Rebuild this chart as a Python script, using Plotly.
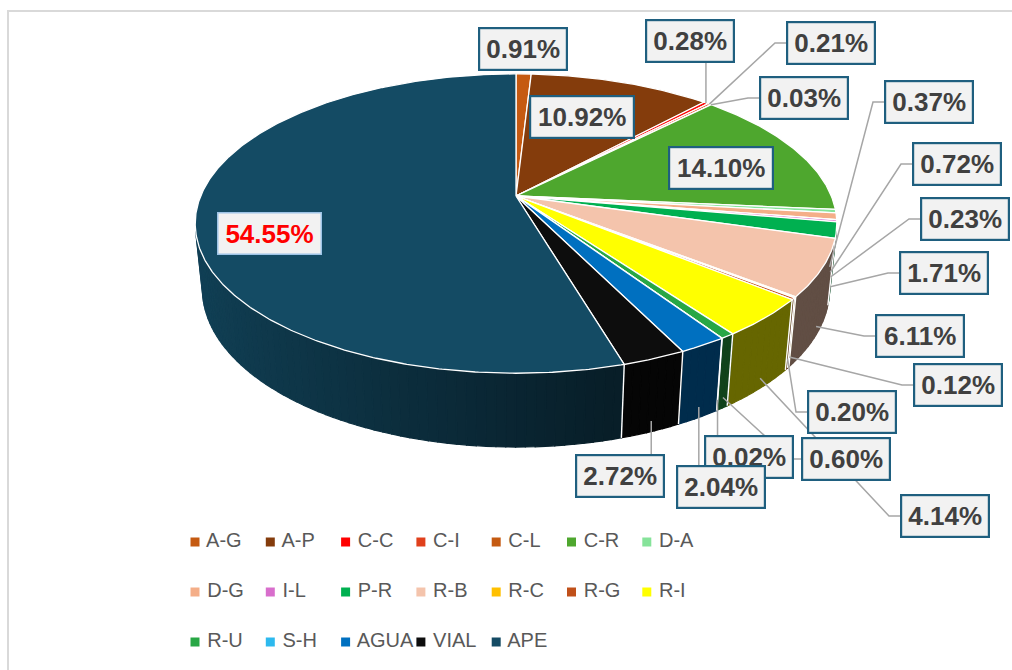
import numpy as np
import plotly.graph_objects as go

# ---- data -----------------------------------------------------------------
categories = ["A-G", "A-P", "C-C", "C-I", "C-L", "C-R", "D-A", "D-G", "I-L", "P-R",
              "R-B", "R-C", "R-G", "R-I", "R-U", "S-H", "AGUA", "VIAL", "APE"]
shares = [0.91, 10.92, 0.28, 0.21, 0.03, 14.10, 0.37, 0.72, 0.23, 1.71,
          6.11, 0.12, 0.20, 4.14, 0.60, 0.02, 2.04, 2.72, 54.55]

# ---- styles ---------------------------------------------------------------
colors = ["#C55A11", "#843C0C", "#FF0000", "#E0401C", "#C55A11", "#4EA72E", "#86E39A",
          "#F4AE88", "#D86ECC", "#00B050", "#F4C4AC", "#FFC000", "#C0501A", "#FFFF00",
          "#28A745", "#2DB9EE", "#0070C0", "#0D0D0D", "#144B64"]

# label box centre (px) and the side where the leader line enters the box
label_pos = [(523, 49), (582, 117), (690, 41), (831, 43), (804, 98), (721, 168),
             (929, 102), (957, 164), (965, 219), (944, 273), (920, 336), (958, 385),
             (852, 412), (945, 516), (846, 459), (749, 457), (721, 487), (620, 476),
             (269, 233)]
label_side = [None, None, "b", "l", "l", None, "l", "l", "l", "l", "l", "l",
              "l", "l", "l", "t", "t", "t", None]

W, H = 1012, 670
FONT = "Liberation Sans, Arial, sans-serif"

# ---- 3-D pie projection -------------------------------------------------------
CX, CY = 516.0, 196.0          # screen position of the pie centre
K = 1523.0                     # focal scale
D = 4.83                       # camera distance (radius units)
ALPHA = np.radians(27.3)       # camera elevation
SA, CA = np.sin(ALPHA), np.cos(ALPHA)
DEPTH = 0.235                  # pie thickness (radius units)


def project(theta_deg, w):
    """Point on the pie rim at angle theta (clockwise from the back) and height w."""
    th = np.radians(theta_deg)
    x, z = np.sin(th), -np.cos(th)
    depth = D - w * SA - z * CA
    return CX + K * x / depth, CY - K * (w * CA - z * SA) / depth


def shade(hex_color, f):
    r, g, b = (int(hex_color[i:i + 2], 16) for i in (1, 3, 5))
    return "rgb({},{},{})".format(int(r * f), int(g * f), int(b * f))


def wall_factor(theta_deg):
    s = np.sin(np.radians(theta_deg))
    return 0.40 + 0.45 * np.clip((0.26 - s) / 1.2, 0, 1)


total = float(sum(shares))
edges = np.concatenate([[0.0], np.cumsum(shares)]) / total * 360.0
vis_lo = np.degrees(np.arccos(-1.0 / (D * CA)))
vis_hi = 360.0 - vis_lo

fig = go.Figure()

# side wall, in thin strips so the shading can change around the rim
for i, cat in enumerate(categories):
    lo, hi = max(edges[i], vis_lo), min(edges[i + 1], vis_hi)
    if hi <= lo:
        continue
    n = max(1, int(np.ceil((hi - lo) / 1.5)))
    cuts = np.linspace(lo, hi, n + 1)
    for a0, a1 in zip(cuts[:-1], cuts[1:]):
        t = np.linspace(a0, a1, 4)
        tx, ty = project(t, 0.0)
        bx, by = project(t[::-1], -DEPTH)
        col = shade(colors[i], wall_factor((a0 + a1) / 2))
        fig.add_trace(go.Scatter(
            x=np.concatenate([tx, bx, tx[:1]]), y=np.concatenate([ty, by, ty[:1]]),
            mode="lines", fill="toself", fillcolor=col,
            line=dict(color=col, width=1.2), hoverinfo="skip", showlegend=False))

# white seams between slices on the wall
for a in edges[1:-1]:
    if vis_lo < a < vis_hi:
        x0, y0 = project(a, 0.0)
        x1, y1 = project(a, -DEPTH)
        fig.add_trace(go.Scatter(x=[x0, x1], y=[y0, y1], mode="lines",
                                 line=dict(color="white", width=1.4),
                                 hoverinfo="skip", showlegend=False))

# top face
for i, cat in enumerate(categories):
    t = np.linspace(edges[i], edges[i + 1], max(2, int((edges[i + 1] - edges[i]) / 0.5) + 2))
    rx, ry = project(t, 0.0)
    fig.add_trace(go.Scatter(
        x=np.concatenate([[CX], rx, [CX]]), y=np.concatenate([[CY], ry, [CY]]),
        mode="lines", fill="toself", fillcolor=colors[i],
        line=dict(color="white", width=1.3), name=cat,
        hoverinfo="name", showlegend=False))

# leader lines
lx, ly = [], []
for i, side in enumerate(label_side):
    if side is None:
        continue
    mid = (edges[i] + edges[i + 1]) / 2
    w = -0.85 * DEPTH if vis_lo - 8 < mid < vis_hi else 0.0
    ax, ay = project(mid, w)
    bx, by = label_pos[i]
    if side == "l":
        half = 45
        lx += [ax, bx - half - 11, bx, None]
        ly += [ay, by, by, None]
    else:
        lx += [ax, ax, None]
        ly += [ay, by, None]
fig.add_trace(go.Scatter(x=lx, y=ly, mode="lines", line=dict(color="#A6A6A6", width=1.5),
                         hoverinfo="skip", showlegend=False))

# data labels
for i, v in enumerate(shares):
    txt = "{:.2f}%".format(v)
    is_main = i == len(shares) - 1
    fig.add_annotation(
        x=label_pos[i][0], y=label_pos[i][1], xref="x", yref="y",
        text="<b>{}</b>".format(txt), showarrow=False,
        font=dict(family=FONT, size=26, color="#FF0000" if is_main else "#404040"),
        bgcolor="#F2F2F2", bordercolor="#9DC3E6" if is_main else "#1F5F7F",
        borderwidth=1.5 if is_main else 2.2, borderpad=2,
        width=98 if len(txt) > 5 else 82, height=36, align="center", valign="middle")

# legend
leg_x = [195 + 75.3 * (i % 7) for i in range(len(categories))]
leg_y = [542 + 50 * (i // 7) for i in range(len(categories))]
fig.add_trace(go.Scatter(
    x=leg_x, y=leg_y, mode="markers+text", text=[" " + c for c in categories],
    textposition="middle right",
    textfont=dict(family=FONT, size=20, color="#595959"),
    marker=dict(symbol="square", size=9, color=colors, line=dict(width=0)),
    hoverinfo="skip", showlegend=False))

# chart frame
fig.add_shape(type="rect", xref="x", yref="y", x0=8, y0=11, x1=W + 20, y1=H + 20,
              line=dict(color="#D9D9D9", width=2), fillcolor="rgba(0,0,0,0)", layer="below")

fig.update_layout(
    width=W, height=H, margin=dict(l=0, r=0, t=0, b=0),
    paper_bgcolor="white", plot_bgcolor="white", showlegend=False,
    xaxis=dict(range=[0, W], visible=False, fixedrange=True),
    yaxis=dict(range=[H, 0], visible=False, fixedrange=True),
)

fig.write_html("out.html")
